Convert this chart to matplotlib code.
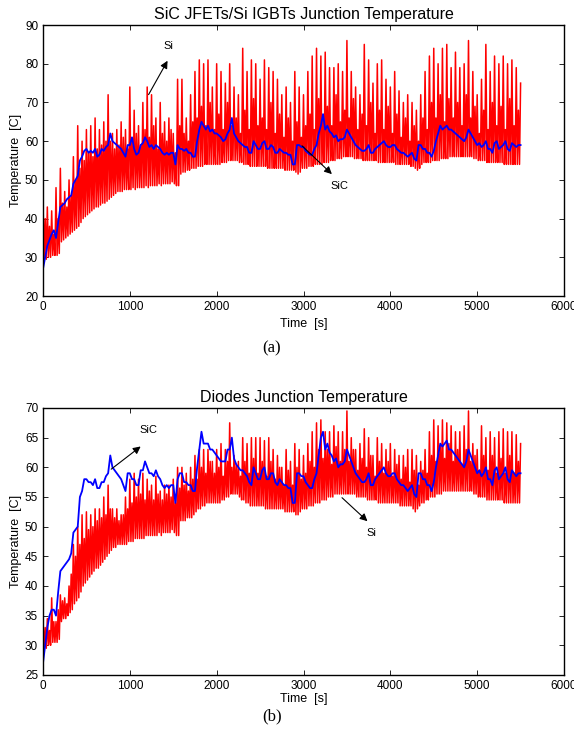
import numpy as np
import matplotlib
matplotlib.use("Agg")
import matplotlib.pyplot as plt

plt.rcParams['font.family'] = ['Liberation Sans', 'DejaVu Sans']

# sample times (s), one value every 25 s
t = np.arange(0, 5501, 25)

# (a) Si IGBT junction temperature: spike tops and bottoms
si_igbt_peaks = [
    45, 40, 43, 38, 42, 36, 48, 40, 53, 44,
    47, 43, 50, 46, 56, 50, 64, 53, 60, 55,
    63, 57, 64, 56, 66, 58, 63, 59, 65, 60,
    72, 60, 62, 58, 63, 59, 65, 61, 63, 58,
    74, 60, 68, 62, 64, 59, 70, 63, 74, 61,
    72, 64, 66, 58, 70, 62, 65, 60, 66, 63,
    62, 57, 76, 64, 76, 62, 66, 60, 72, 65,
    78, 66, 81, 69, 80, 64, 81, 70, 74, 63,
    80, 67, 78, 63, 75, 70, 80, 64, 74, 66,
    72, 62, 84, 68, 78, 63, 81, 71, 80, 64,
    76, 66, 81, 63, 79, 70, 78, 62, 76, 67,
    72, 61, 74, 66, 70, 60, 78, 65, 74, 61,
    72, 64, 78, 67, 82, 63, 84, 71, 82, 66,
    83, 69, 79, 64, 79, 72, 80, 65, 78, 68,
    86, 66, 78, 71, 74, 63, 72, 67, 85, 64,
    81, 70, 75, 62, 80, 68, 81, 63, 76, 69,
    74, 62, 78, 67, 73, 61, 70, 66, 72, 60,
    70, 64, 68, 60, 72, 66, 78, 63, 82, 70,
    84, 66, 80, 72, 84, 65, 85, 71, 79, 66,
    83, 70, 79, 64, 80, 72, 86, 66, 78, 69,
    72, 62, 76, 68, 85, 63, 78, 70, 82, 64,
    80, 69, 82, 63, 80, 71, 81, 64, 79, 68,
    75]
si_igbt_lows = [
    29, 29.5, 30, 30, 30.5, 30.5, 30.5, 31, 34, 34.5,
    35, 35.5, 36, 36.5, 37, 37.5, 38, 39, 40, 40.5,
    41, 41.5, 42, 42.5, 43, 43, 43.5, 44, 44, 44.5,
    45, 45.5, 46, 46.5, 47, 47, 47, 47.5, 47.5, 47.5,
    47.5, 48, 47.5, 48, 48, 48, 48, 48.5, 48, 48.5,
    48.5, 48.5, 48.5, 49, 48.5, 49, 49, 49, 49, 49.5,
    49, 48.5, 48.5, 51.5, 52, 52, 52.5, 52.5, 53, 53,
    53, 53.5, 53.5, 53.5, 54, 54, 54, 54, 54, 54,
    54, 54, 54.5, 54.5, 54.5, 55, 55, 55, 55, 55,
    54.5, 54.5, 54, 54, 54, 53.5, 53.5, 53.5, 53.5, 53.5,
    53.5, 53.5, 53.5, 53, 53, 53, 53, 53, 53, 53,
    53, 52.5, 52.5, 52.5, 52.5, 52.5, 52, 51.5, 52, 53,
    53, 53, 53.5, 53.5, 53.5, 54, 54, 54, 54, 54.5,
    54.5, 54.5, 55, 55, 55, 55.5, 55.5, 55.5, 56, 56,
    56, 56, 56, 55.5, 55.5, 55.5, 55.5, 55, 55, 55,
    55, 55, 55, 55, 54.5, 54.5, 54.5, 54.5, 54.5, 54.5,
    54.5, 54.5, 54, 54, 54, 54, 54, 54, 54, 53.5,
    53.5, 53, 52.5, 53, 54, 54.5, 54.5, 54.5, 54.5, 55,
    55, 55, 55, 55.5, 55.5, 55.5, 55.5, 56, 56, 56,
    56, 56, 56, 56, 56, 56, 56, 56, 55.5, 55.5,
    55, 55, 55, 55, 54.5, 54.5, 54.5, 54.5, 54.5, 54.5,
    54.5, 54.5, 54, 54, 54, 54, 54, 54, 54, 54,
    54]
# (a) SiC JFET junction temperature
sic_jfet = [
    27, 30, 33, 34.5, 36, 37, 35, 39, 43, 43.5,
    44, 45, 45.5, 46, 49, 50, 51, 55, 56, 57.5,
    58, 57, 57.5, 57, 58, 56, 56.5, 58, 57.5, 58.5,
    59, 62, 60, 59.5, 59, 58.5, 58, 57, 56, 59,
    59, 61, 58, 56.5, 57, 59, 59.5, 61, 60, 58.5,
    59, 58, 59, 58.5, 58, 57, 56.5, 57, 56.5, 57,
    57, 54, 59, 58, 58, 57.5, 58, 57, 57, 56,
    56, 60, 63, 65, 64, 63, 64, 62.5, 63, 62,
    62, 61.5, 61, 60, 60.5, 62, 63, 66, 62, 61,
    60, 59.5, 59, 58.5, 58.5, 57, 57, 60, 59, 58,
    58, 59.5, 60, 58, 58, 59, 58.5, 57, 57, 58,
    57.5, 57, 57, 56.5, 56.5, 54, 54, 59, 59, 58.5,
    58.5, 57.5, 57, 56.5, 56.5, 58, 59, 62, 64, 67,
    63, 64, 62.5, 62, 61, 61.5, 60, 60.5, 60.5, 61,
    63, 62, 61, 60, 59, 58.5, 58, 57.5, 57.5, 58,
    59, 57, 57, 58, 58.5, 59, 59.5, 60, 59, 58.5,
    58.5, 59, 59, 58, 57.5, 57, 57, 56.5, 56, 56.5,
    57, 55.5, 55, 59, 59, 58, 58, 57, 57, 56,
    57.5, 60, 62, 64, 63, 63.5, 64, 63, 63, 62.5,
    62, 61.5, 61, 60.5, 60, 61, 63, 62, 61, 60,
    59, 59.5, 58.5, 59, 60, 58, 58, 57, 59.5, 60,
    58, 58.5, 59, 60, 58, 57.5, 59.5, 59, 58.5, 59,
    59]

# (b) Si diode junction temperature: spike tops and bottoms
si_diode_peaks = [
    34.5, 33, 34.5, 32.5, 38, 34, 34, 36, 38.5, 37.5,
    38, 37, 40, 42, 47, 45, 50, 47, 52, 48,
    52.5, 49.5, 52, 50, 53, 51, 53, 51.5, 55, 52,
    57, 53, 53, 51.5, 53, 51, 52, 52, 55, 53,
    58, 54, 59, 55, 58, 55.5, 59, 54.5, 58, 56,
    57, 54.5, 58.5, 55.5, 56, 54.5, 57, 55.5, 57, 55,
    58, 54, 60, 56.5, 60, 57, 59, 56, 60, 58,
    62, 58, 63, 60, 63, 59, 63, 61, 61, 59,
    63, 60, 64, 58.5, 63, 61, 67.5, 60, 62, 60.5,
    61, 58.5, 65, 61, 64, 59, 65, 61.5, 65, 59,
    65, 61, 64.5, 58.5, 65, 61, 63, 58, 62, 60,
    60, 57, 63, 59.5, 61, 57, 64, 60, 63, 58,
    62, 59, 64, 61, 66, 60, 67.5, 63, 68, 61.5,
    66, 63, 66, 60.5, 67, 63.5, 66, 61, 66, 63,
    69.5, 61, 65, 63, 63, 59.5, 64, 61.5, 66.5, 60,
    65, 62, 62, 58.5, 65, 61, 64, 59, 63, 61,
    64, 58.5, 63, 60.5, 62, 58, 62, 60, 63, 57.5,
    63, 59.5, 62, 57, 61, 59.5, 63, 59, 66, 62,
    68, 61, 67, 63.5, 68, 61.5, 67.5, 64, 67, 61,
    66, 63, 66, 60.5, 67, 63, 69.5, 61, 64, 62,
    63, 59.5, 67, 62, 65, 59.5, 66, 62, 65, 59,
    66, 61.5, 66.5, 59, 66, 62, 66, 59, 65.5, 61,
    64]
si_diode_lows = [
    29, 29.5, 30, 30, 30.5, 30.5, 30.5, 31, 34, 34.5,
    34.5, 35, 35.5, 36, 37, 37.5, 38, 39, 40, 40.5,
    41, 41.5, 42, 42.5, 43, 43, 43.5, 44, 44.5, 45,
    45.5, 46, 46.5, 46.5, 47, 47, 47, 47, 47, 47.5,
    47.5, 47.5, 48, 48, 48, 48, 48, 48.5, 48.5, 48.5,
    48.5, 48.5, 48.5, 49, 48.5, 49, 49, 49, 49, 49.5,
    49, 48.5, 48.5, 51, 51, 51, 51.5, 51.5, 51.5, 52,
    52.5, 53, 53, 53.5, 53.5, 54, 54, 54, 54, 54,
    54, 54, 54.5, 54.5, 55, 55, 55.5, 55.5, 55.5, 55.5,
    55, 54.5, 54.5, 54, 54, 53.5, 53.5, 53.5, 53.5, 53.5,
    53.5, 53.5, 53, 53, 53, 53, 53, 53, 53, 53,
    53, 52.5, 52.5, 52.5, 52.5, 52.5, 52, 52, 52.5, 53,
    53, 53, 53.5, 53.5, 53.5, 54, 54, 54, 54.5, 54.5,
    54.5, 55, 55, 55, 55.5, 55.5, 55.5, 55.5, 55.5, 55.5,
    55.5, 55.5, 55.5, 55.5, 55, 55, 55, 55, 55, 54.5,
    54.5, 54.5, 54.5, 54.5, 54, 54, 54, 54, 54, 54,
    54, 54, 54, 54, 53.5, 53.5, 53.5, 53.5, 53.5, 53.5,
    53, 52.5, 53, 53.5, 54, 54, 54.5, 54.5, 55, 55,
    55, 55.5, 55.5, 55.5, 56, 56, 56, 56, 56, 56,
    56, 56, 56, 56, 56, 56, 56, 56, 55.5, 55.5,
    55, 55, 55, 55, 54.5, 54.5, 54.5, 54.5, 54.5, 54.5,
    54.5, 54.5, 54, 54, 54, 54, 54, 54, 54, 54,
    54]
# (b) SiC diode junction temperature
sic_diode = [
    27, 30, 33, 35, 36, 36, 35, 39, 42.5, 43,
    43.5, 44, 44.5, 45.5, 49, 49.5, 50, 55, 56, 58,
    58, 57.5, 57.5, 57, 58, 56.5, 56.5, 57.5, 57.5, 58.5,
    59, 62, 60, 59.5, 59, 58.5, 58, 57, 56, 59,
    59, 58, 58, 57, 57, 59.5, 59.5, 61, 60, 59,
    59, 58.5, 59.5, 58.5, 58, 57, 56.5, 57, 56.5, 57,
    57, 54, 58, 59, 59, 57.5, 57.5, 57, 57, 56,
    56, 60, 63, 66, 64, 64, 64, 63, 63, 62.5,
    62, 61.5, 61, 61, 61, 63, 63, 65, 61.5, 60.5,
    60, 59.5, 59.5, 59, 58.5, 57.5, 57, 60, 59, 58,
    58, 59.5, 60, 58, 58, 59, 59, 57.5, 57, 58,
    57.5, 57, 57, 56.5, 56.5, 54, 54, 59, 59, 58.5,
    58.5, 57.5, 57, 56.5, 56.5, 58, 59, 62, 65, 66,
    63, 64, 62.5, 62, 61, 61.5, 60, 60.5, 60.5, 61,
    63, 62, 61, 60, 59, 58.5, 58, 57.5, 57.5, 58,
    59, 57, 57, 58, 58.5, 59, 59.5, 60, 59, 58.5,
    58.5, 59, 59, 58, 57.5, 57, 57, 56.5, 56, 56.5,
    57, 55.5, 55, 59, 59, 58, 58, 57, 57, 56,
    57.5, 60, 62, 64, 63.5, 64, 64.5, 63, 63, 62.5,
    62, 61.5, 61, 60.5, 60, 61, 63, 62, 61, 60,
    59, 59.5, 58.5, 59, 60, 58, 58, 57, 59.5, 60,
    58, 58.5, 59, 60, 58, 57.5, 59.5, 59, 58.5, 59,
    59]


def zigzag(times, peaks, lows):
    # alternate spike top and bottom so the trace looks like the switching ripple
    x = np.empty(2 * len(times))
    y = np.empty(2 * len(times))
    x[0::2] = times
    x[1::2] = times + 12.5
    y[0::2] = peaks
    y[1::2] = lows
    return x[:-1], y[:-1]


def style_axes(ax, ylim, ystep, title, xpad):
    ax.set_xlim(0, 6000)
    ax.set_ylim(*ylim)
    ax.set_xticks(np.arange(0, 6001, 1000))
    ax.set_yticks(np.arange(ylim[0], ylim[1] + 1, ystep))
    ax.tick_params(direction='in', top=True, right=True, labelsize=8.5, length=3.5, width=0.6)
    for s in ax.spines.values():
        s.set_linewidth(1.0)
    ax.set_title(title, fontsize=11.5, pad=4)
    ax.set_xlabel('Time  [s]', fontsize=9, labelpad=xpad)
    ax.set_ylabel('Temperature  [C]', fontsize=9, labelpad=2)


arrow = dict(arrowstyle='-|>', color='k', lw=0.8, mutation_scale=11)

fig = plt.figure(figsize=(5.74, 7.41), dpi=100)

ax1 = fig.add_axes([0.0749, 0.6005, 0.9077, 0.3657])
xr, yr = zigzag(t, si_igbt_peaks, si_igbt_lows)
ax1.plot(xr, yr, color='#ff0000', lw=1.1)
ax1.plot(t, sic_jfet, color='#0000ff', lw=1.3)
style_axes(ax1, (20, 90), 10, 'SiC JFETs/Si IGBTs Junction Temperature', 4)
ax1.annotate('', xy=(1450, 81.4), xytext=(1200, 71.4), arrowprops=arrow)
ax1.text(1440, 84.6, 'Si', fontsize=8, ha='center', va='center')
ax1.annotate('', xy=(3350, 51), xytext=(2960, 59.3), arrowprops=arrow)
ax1.text(3420, 48.5, 'SiC', fontsize=8, ha='center', va='center')

ax2 = fig.add_axes([0.0749, 0.0891, 0.9077, 0.3603])
xr, yr = zigzag(t, si_diode_peaks, si_diode_lows)
ax2.plot(xr, yr, color='#ff0000', lw=1.1)
ax2.plot(t, sic_diode, color='#0000ff', lw=1.3)
style_axes(ax2, (25, 70), 5, 'Diodes Junction Temperature', 1)
ax2.annotate('', xy=(1150, 63.8), xytext=(760, 59.4), arrowprops=arrow)
ax2.text(1210, 66.3, 'SiC', fontsize=8, ha='center', va='center')
ax2.annotate('', xy=(3760, 50.6), xytext=(3420, 55.2), arrowprops=arrow)
ax2.text(3785, 49.0, 'Si', fontsize=8, ha='center', va='center')

fig.text(272 / 574, 1 - 348 / 741, '(a)', family='Liberation Serif', fontsize=12,
         ha='center', va='center')
fig.text(272 / 574, 1 - 716 / 741, '(b)', family='Liberation Serif', fontsize=12,
         ha='center', va='center')

fig.savefig('out.png', dpi=100)
